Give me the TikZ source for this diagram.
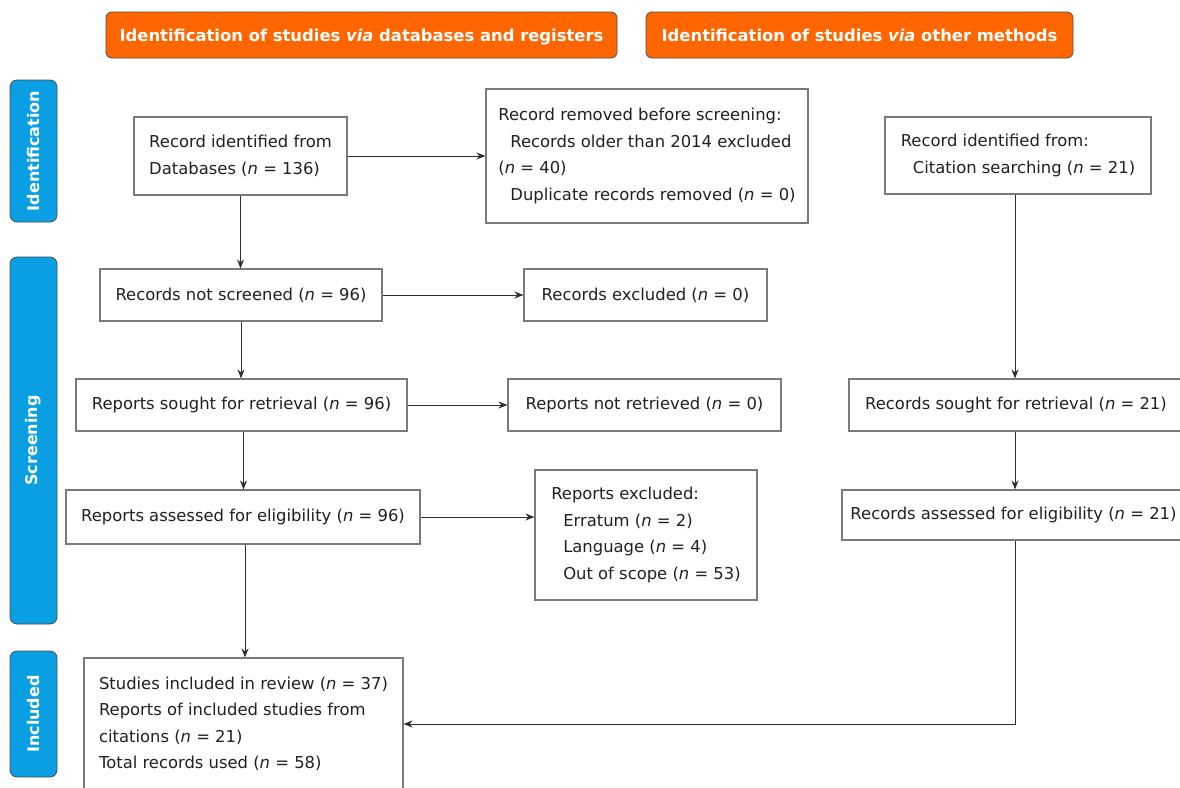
\documentclass[tikz,border=0pt]{standalone}
\usepackage{fontspec}
\setmainfont{DejaVu Sans}
\usetikzlibrary{arrows.meta}
\definecolor{orng}{HTML}{FF6600}
\definecolor{blu}{HTML}{0A9FE3}
\definecolor{txt}{HTML}{231F20}
\definecolor{brd}{HTML}{7A7A7A}
\definecolor{arrc}{HTML}{2E2E2E}
\newcommand{\nv}{\textit{n}}
\begin{document}
\begin{tikzpicture}[x=1pt,y=-1pt,
  box/.style n args={2}{draw=brd, line width=1.1pt, inner sep=0pt, align=left,
    minimum width=#1, minimum height=#2, text=txt,
    font=\fontsize{16.4}{26.5}\selectfont},
  hdr/.style={draw=black!70, fill=orng, rounded corners=6pt, line width=0.8pt,
    minimum height=46, text=white, inner sep=0pt, text height=14pt, text depth=1pt,
    font=\fontsize{16.4}{20}\selectfont\bfseries},
  side/.style={draw=black!70, fill=blu, rounded corners=7pt, line width=0.8pt,
    rotate=90, minimum height=47, inner sep=0pt, text=white,
    font=\fontsize{16}{20}\selectfont\bfseries},
  arr/.style={draw=arrc, line width=1pt, -{Stealth[length=9pt,width=7pt]}}]
\useasboundingbox (0,0) rectangle (1180,787);
% headers
\node[hdr, minimum width=511] (h1) at (361.5,35) {Identification of studies \textit{via} databases and registers};
\node[hdr, minimum width=427] (h2) at (859.5,35) {Identification of studies \textit{via} other methods};
% side bars
\node[side, minimum width=142] (s1) at (33.5,151) {Identification};
\node[side, minimum width=367] (s2) at (33.5,440.5) {Screening};
\node[side, minimum width=126] (s3) at (33.5,714) {Included};
% boxes
\node[box={213}{78}] (A) at (240.5,156) {Record identified from\\Databases (\nv{} = 136)};
\node[box={322}{134}] (B) at (647,156) {Record removed before screening:\\\hspace*{12pt}Records older than 2014 excluded\\(\nv{} = 40)\\\hspace*{12pt}Duplicate records removed (\nv{} = 0)};
\node[box={266}{77}] (C) at (1018,155.5) {Record identified from:\\\hspace*{12pt}Citation searching (\nv{} = 21)};
\node[box={282}{52}] (D) at (241,295) {Records not screened (\nv{} = 96)};
\node[box={243}{52}] (E) at (645.5,295) {Records excluded (\nv{} = 0)};
\node[box={331}{52}] (F) at (241.5,405) {Reports sought for retrieval (\nv{} = 96)};
\node[box={273}{52}] (G) at (644.5,405) {Reports not retrieved (\nv{} = 0)};
\node[box={334}{52}] (H) at (1016,405) {Records sought for retrieval (\nv{} = 21)};
\node[box={354}{54}] (I) at (243,517) {Reports assessed for eligibility (\nv{} = 96)};
\node[box={222}{130}] (J) at (646,535) {Reports excluded:\\\hspace*{12pt}Erratum (\nv{} = 2)\\\hspace*{12pt}Language (\nv{} = 4)\\\hspace*{12pt}Out of scope (\nv{} = 53)};
\node[box={343}{50}] (K) at (1013.5,515) {Records assessed for eligibility (\nv{} = 21)};
\node[box={319}{132}] (L) at (243.5,724) {Studies included in review (\nv{} = 37)\\Reports of included studies from\\citations (\nv{} = 21)\\Total records used (\nv{} = 58)};
% connectors
\draw[arr] (A.east) -- (B.west);
\draw[arr] (A.south) -- (A.south |- D.north);
\draw[arr] (D.east) -- (E.west);
\draw[arr] (D.south) -- (D.south |- F.north);
\draw[arr] (F.east) -- (G.west);
\draw[arr] ([xshift=2pt]F.south) -- ([xshift=2pt]F.south |- I.north);
\draw[arr] (I.east) -- (I.east -| J.west);
\draw[arr] ([xshift=2pt]I.south) -- ([xshift=2pt]I.south |- L.north);
\draw[arr] ([xshift=-3pt]C.south) -- ([xshift=-3pt]C.south |- H.north);
\draw[arr] ([xshift=-1pt]H.south) -- ([xshift=-1pt]H.south |- K.north);
\draw[arr] ([xshift=1.5pt]K.south) |- (L.east);
\end{tikzpicture}
\end{document}
